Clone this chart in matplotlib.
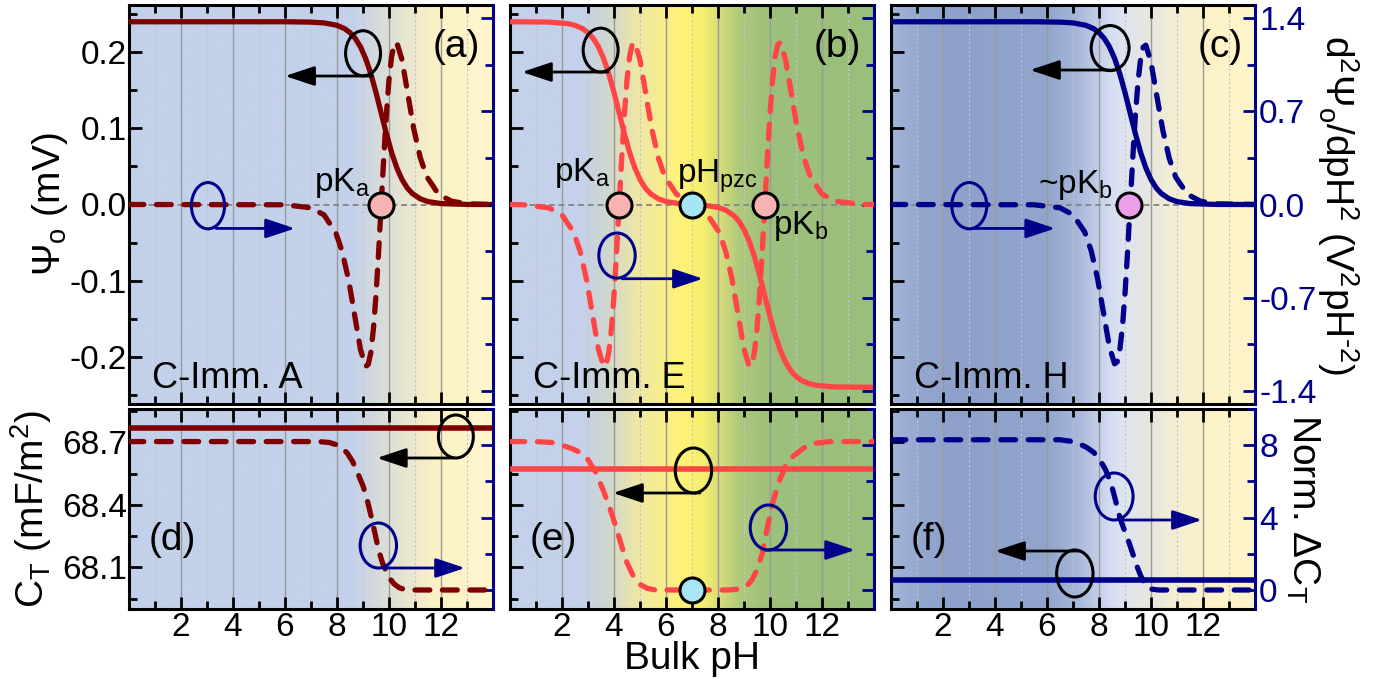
import matplotlib
matplotlib.use("Agg")
import matplotlib.pyplot as plt
import numpy as np
from matplotlib.colors import LinearSegmentedColormap
from matplotlib.patches import Ellipse
from matplotlib.ticker import MultipleLocator, FormatStrFormatter

plt.rcParams['font.family'] = ['Liberation Sans', 'DejaVu Sans']
plt.rcParams['mathtext.fontset'] = 'custom'
plt.rcParams['mathtext.rm'] = 'Liberation Sans'
plt.rcParams['mathtext.it'] = 'Liberation Sans:italic'
plt.rcParams['mathtext.bf'] = 'Liberation Sans:bold'
plt.rcParams['axes.unicode_minus'] = False

# ---- values ----
# (a) C-Imm. A
ph_a = [0, 6, 7, 7.5, 8, 8.3, 8.5, 8.7, 8.9, 9.1, 9.3, 9.5, 9.7, 9.9, 10.1, 10.3,
        10.5, 10.7, 10.9, 11.2, 11.5, 12, 13, 14]
psi_a = [0.240, 0.240, 0.2395, 0.2385, 0.2353, 0.2308, 0.2257, 0.2182, 0.2072, 0.1918,
         0.1717, 0.1471, 0.120, 0.0929, 0.0683, 0.0482, 0.0328, 0.0218, 0.0143, 0.0075,
         0.0038, 0.0012, 0.0001, 0.0]
ph_a_d = [0, 6, 7, 7.5, 7.95, 8.2, 8.45, 8.7, 8.9, 9.1, 9.2, 9.3, 9.4, 9.5, 9.6, 9.7,
          9.8, 9.9, 10.0, 10.1, 10.2, 10.3, 10.5, 10.7, 10.95, 11.2, 11.45, 11.9, 12.4, 13, 14]
d2_a = [0, -0.002, -0.025, -0.078, -0.21, -0.354, -0.571, -0.858, -1.088, -1.218,
        -1.203, -1.113, -0.937, -0.681, -0.359, 0, 0.359, 0.681, 0.937, 1.113, 1.203, 1.218,
        1.088, 0.858, 0.571, 0.354, 0.21, 0.078, 0.025, 0.005, 0]

# (b) C-Imm. E
ph_b = [0, 1.5, 2.2, 2.5, 2.8, 3.0, 3.2, 3.4, 3.6, 3.8, 4.0, 4.2, 4.4, 4.6, 4.8, 5.0,
        5.2, 5.4, 5.7, 6.0, 6.5, 7.0, 7.5, 8.0, 8.3, 8.6, 8.8, 9.0, 9.2, 9.4, 9.6, 9.8,
        10.0, 10.2, 10.4, 10.6, 10.8, 11.0, 11.2, 11.5, 11.8, 12.5, 14]
psi_b = [0.240, 0.2396, 0.2376, 0.2353, 0.2308, 0.2257, 0.2182, 0.2072, 0.1918, 0.1717,
         0.1471, 0.120, 0.0929, 0.0683, 0.0482, 0.0328, 0.0218, 0.0143, 0.0075, 0.0038,
         0.0012, 0.0, -0.0012, -0.0038, -0.0075, -0.0143, -0.0218, -0.0328, -0.0482, -0.0683,
         -0.0929, -0.120, -0.1471, -0.1717, -0.1918, -0.2072, -0.2182, -0.2257, -0.2308, -0.2353,
         -0.2376, -0.2396, -0.240]
ph_b_d = [0, 0.5, 1.5, 2.0, 2.45, 2.7, 2.95, 3.2, 3.4, 3.6, 3.7, 3.8, 3.9, 4.0, 4.1, 4.2,
          4.3, 4.4, 4.5, 4.6, 4.7, 4.8, 5.0, 5.2, 5.45, 5.7, 5.95, 6.4, 7.0, 7.6, 8.05, 8.3,
          8.55, 8.8, 9.0, 9.2, 9.3, 9.4, 9.5, 9.6, 9.7, 9.8, 9.9, 10.0, 10.1, 10.2, 10.3, 10.4,
          10.6, 10.8, 11.05, 11.3, 11.55, 12.0, 12.5, 13.5, 14]
d2_b = [0, -0.002, -0.025, -0.078, -0.21, -0.354, -0.571, -0.858, -1.088, -1.218,
        -1.203, -1.113, -0.937, -0.681, -0.359, 0, 0.359, 0.681, 0.937, 1.113,
        1.203, 1.218, 1.088, 0.858, 0.571, 0.354, 0.21, 0.078, 0, -0.078,
        -0.21, -0.354, -0.571, -0.858, -1.088, -1.218, -1.203, -1.113, -0.937, -0.681,
        -0.359, 0, 0.359, 0.681, 0.937, 1.113, 1.203, 1.218, 1.088, 0.858,
        0.571, 0.354, 0.21, 0.078, 0.025, 0.002, 0]

# (c) C-Imm. H
ph_c = [0, 5.5, 6.5, 7.0, 7.5, 7.8, 8.0, 8.2, 8.4, 8.6, 8.8, 9.0, 9.2, 9.4, 9.6, 9.8,
        10.0, 10.2, 10.4, 10.7, 11.0, 11.5, 12.5, 14]
psi_c = [0.240, 0.240, 0.2395, 0.2385, 0.2353, 0.2308, 0.2257, 0.2182, 0.2072, 0.1918,
         0.1717, 0.1471, 0.120, 0.0929, 0.0683, 0.0482, 0.0328, 0.0218, 0.0143, 0.0075,
         0.0038, 0.0012, 0.0001, 0.0]
ph_c_d = [0, 5.5, 6.5, 7.0, 7.45, 7.7, 7.95, 8.2, 8.4, 8.6, 8.7, 8.8, 8.9, 9.0, 9.1, 9.2,
          9.3, 9.4, 9.5, 9.6, 9.7, 9.8, 10.0, 10.2, 10.45, 10.7, 10.95, 11.4, 11.9, 12.5, 14]
d2_c = [0, -0.002, -0.025, -0.077, -0.206, -0.348, -0.562, -0.844, -1.070, -1.198,
        -1.183, -1.094, -0.922, -0.670, -0.353, 0, 0.353, 0.670, 0.922, 1.094, 1.183, 1.198,
        1.070, 0.844, 0.562, 0.348, 0.206, 0.077, 0.025, 0.005, 0]

# bottom row: total capacitance (flat) and normalised change
ph_flat = [0, 14]
ct_d = [68.77, 68.77]
ct_e = [68.57, 68.57]
ct_f = [68.04, 68.04]
ph_d = [0, 7.3, 7.7, 8.0, 8.2, 8.4, 8.6, 8.8, 9.0, 9.15, 9.3, 9.45, 9.6, 9.75, 9.9,
        10.05, 10.2, 10.4, 10.6, 10.9, 14]
nct_d = [8.2, 8.2, 8.15, 8.02, 7.85, 7.55, 7.1, 6.45, 5.75, 5.05, 4.15, 3.2, 2.2, 1.5,
         1.0, 0.6, 0.33, 0.12, 0.03, 0, 0]
ph_e = [0, 1.0, 1.6, 2.0, 2.4, 2.7, 3.0, 3.3, 3.6, 3.8, 4.05, 4.3, 4.5, 4.75, 5.0, 5.3,
        5.6, 8.4, 8.8, 9.1, 9.3, 9.5, 9.7, 9.9, 10.1, 10.35, 10.6, 10.9, 11.3, 11.7, 12.3, 14]
nct_e = [8.2, 8.2, 8.15, 8.0, 7.8, 7.6, 7.2, 6.5, 5.45, 4.7, 3.6, 2.4, 1.5, 0.75, 0.3, 0.08,
         0, 0, 0.05, 0.2, 0.55, 1.1, 2.0, 3.45, 4.8, 6.0, 6.85, 7.4, 7.85, 8.1, 8.2, 8.2]
ph_f = [0, 6.5, 6.9, 7.2, 7.5, 7.8, 8.05, 8.25, 8.45, 8.6, 8.8, 8.95, 9.1, 9.3, 9.45, 9.6,
        9.8, 10.0, 10.3, 14]
nct_f = [8.3, 8.3, 8.22, 8.1, 7.9, 7.6, 7.15, 6.65, 5.95, 5.15, 4.0, 3.4, 2.85, 2.0, 1.35,
         0.8, 0.25, 0.05, 0, 0]

# marked points on the zero line: (pH, fill colour)
marks_a = [(9.7, '#f7b2b2')]
marks_b = [(4.2, '#f7b2b2'), (7.0, '#a6e6f2'), (9.8, '#f7b2b2')]
marks_c = [(9.15, '#ee9ee8')]
marks_e = [(7.0, '#a8e6f5')]

NAVY = '#00008b'
colors = ['#7f0000', '#ff4545', NAVY]

# background colour stops along pH
grad_a = [(0, '#c3d1ea'), (8.6, '#c3d1ea'), (10.0, '#dcdfd6'), (11.8, '#fcf1c6'), (14, '#fff6cd')]
grad_b = [(0, '#c4d1ea'), (2.7, '#c4d1ea'), (3.7, '#cfd6d0'), (4.9, '#eee7a6'), (6.5, '#fff27a'),
          (7.4, '#f7ef6e'), (8.1, '#d8dd7a'), (8.8, '#b0ca7c'), (10.0, '#9dc07d'), (14, '#9bbf7b')]
grad_c = [(0, '#a3b4d9'), (1.2, '#93a6ce'), (2.5, '#8ea1cb'), (6.0, '#92a5cd'), (7.2, '#a8b8da'),
          (8.5, '#d5def1'), (9.0, '#dfe4ef'), (10.0, '#e8e7de'), (11.0, '#f4eed4'),
          (12.3, '#fdf2c7'), (14, '#fff5cc')]
grads = [grad_a, grad_b, grad_c]

TOP_Y, TOP_Y2 = (-0.262, 0.262), (-1.5, 1.5)
BOT_Y, BOT_Y2 = (67.9, 68.86), (-1.05, 10.0)
TICK_FS = 24
DASH = (0, (2.8, 2.4))

fig = plt.figure(figsize=(13.95, 6.85), dpi=100)
lefts = [129 / 1395, 510 / 1395, 891 / 1395]
width = 364 / 1395


def paint(ax, stops, ylim):
    cmap = LinearSegmentedColormap.from_list('bg', [(p / 14, c) for p, c in stops])
    ax.imshow(np.linspace(0, 1, 600)[None, :], cmap=cmap, aspect='auto',
              extent=(0, 14, ylim[0], ylim[1]), zorder=0, interpolation='bilinear')


def style(ax, ax2, ylim, y2lim, col, bottom_row):
    ax.set_xlim(0, 14)
    ax.set_ylim(*ylim)
    ax2.set_ylim(*y2lim)
    ax.xaxis.set_major_locator(MultipleLocator(2))
    ax.xaxis.set_minor_locator(MultipleLocator(1))
    ax.set_xticks([2, 4, 6, 8, 10, 12])
    ax.xaxis.grid(True, which='major', color='#9a9a9a', lw=1.0)
    ax.xaxis.grid(True, which='minor', color='#c4c4c4', lw=0.8, ls=(0, (2, 2)))
    for s in ['left', 'top', 'bottom']:
        ax.spines[s].set_linewidth(2.2)
        ax.spines[s].set_color('black')
        ax2.spines[s].set_visible(False)
    ax.spines['right'].set_visible(False)
    ax2.spines['right'].set_linewidth(2.2)
    ax2.spines['right'].set_color(NAVY)
    ax.tick_params(which='major', direction='in', length=9, width=2, top=True, bottom=True,
                   left=True, right=False, labelsize=TICK_FS, pad=2,
                   labelbottom=bottom_row, labelleft=(col == 0))
    ax.tick_params(which='minor', direction='in', length=5.5, width=2, top=True, bottom=True,
                   left=True, right=False)
    ax.tick_params(axis='y', pad=1.5)
    ax2.tick_params(axis='y', which='major', direction='in', length=9, width=2, colors=NAVY,
                    labelsize=TICK_FS, pad=3, labelright=(col == 2))
    ax2.tick_params(axis='y', which='minor', direction='in', length=5.5, width=2, color=NAVY)


def indicator(ax, spec, color):
    cx, cy, w, h, x0, x1, y = spec
    ax.add_patch(Ellipse((cx, cy), w, h, transform=ax.transAxes, fill=False,
                         ec=color, lw=2.2, zorder=7))
    ax.annotate('', xy=(x1, y), xytext=(x0, y), xycoords='axes fraction',
                arrowprops=dict(arrowstyle='-|>,head_length=0.9,head_width=0.3',
                                color=color, lw=2.0, shrinkA=0, shrinkB=0,
                                mutation_scale=20), zorder=7)


# ---------------- top row ----------------
top_data = [(ph_a, psi_a, ph_a_d, d2_a, marks_a),
            (ph_b, psi_b, ph_b_d, d2_b, marks_b),
            (ph_c, psi_c, ph_c_d, d2_c, marks_c)]
top_ind = [
    [((0.643, 0.879, 0.096, 0.113, 0.668, 0.429, 0.822), 'black'),
     ((0.217, 0.497, 0.091, 0.116, 0.239, 0.456, 0.44), NAVY)],
    [((0.249, 0.887, 0.096, 0.11, 0.269, 0.033, 0.832), 'black'),
     ((0.294, 0.372, 0.1, 0.113, 0.308, 0.53, 0.314), NAVY)],
    [((0.602, 0.892, 0.104, 0.113, 0.615, 0.382, 0.837), 'black'),
     ((0.215, 0.497, 0.096, 0.116, 0.225, 0.451, 0.44), NAVY)],
]
letters_top = ['(a)', '(b)', '(c)']
names = ['C-Imm. A', 'C-Imm. E', 'C-Imm. H']

top_axes = []
for i in range(3):
    ax = fig.add_axes([lefts[i], 1 - 404 / 685, width, 399 / 685])
    ax2 = ax.twinx()
    paint(ax, grads[i], TOP_Y)
    style(ax, ax2, TOP_Y, TOP_Y2, i, False)
    ax.yaxis.set_major_locator(MultipleLocator(0.1))
    ax.yaxis.set_minor_locator(MultipleLocator(0.05))
    ax.yaxis.set_major_formatter(FormatStrFormatter('%.1f'))
    ax2.yaxis.set_major_locator(MultipleLocator(0.7))
    ax2.yaxis.set_minor_locator(MultipleLocator(0.35))
    ax2.yaxis.set_major_formatter(FormatStrFormatter('%.1f'))

    ph, psi, phd, d2, marks = top_data[i]
    ax.axhline(0, color='#8a8a8a', lw=1.4, ls=(0, (3, 2)), zorder=1.6)
    ax.plot(ph, psi, color=colors[i], lw=3.8, zorder=3)
    ax2.plot(phd, d2, color=colors[i], lw=3.8, ls=DASH,
             dash_capstyle='round', zorder=3)
    for x, fc in marks:
        ax2.plot([x], [0], 'o', ms=18, mfc=fc, mec='black', mew=2.2, zorder=6)
    for spec, c in top_ind[i]:
        indicator(ax2, spec, c)
    ax2.text(0.965, 0.895, letters_top[i], transform=ax2.transAxes, ha='right',
             va='center', fontsize=28)
    ax2.text(0.062, 0.04, names[i], transform=ax2.transAxes, ha='left',
             va='baseline', fontsize=26)
    top_axes.append((ax, ax2))

a_ax2 = top_axes[0][1]
a_ax2.text(0.662, 0.535, 'pK$_\\mathregular{a}$', transform=a_ax2.transAxes,
           ha='right', va='baseline', fontsize=24, zorder=8)
b_ax2 = top_axes[1][1]
b_ax2.text(0.275, 0.56, 'pK$_\\mathregular{a}$', transform=b_ax2.transAxes,
           ha='right', va='baseline', fontsize=24, zorder=8)
b_ax2.text(0.459, 0.555, 'pH$_\\mathregular{pzc}$', transform=b_ax2.transAxes,
           ha='left', va='baseline', fontsize=24, zorder=8)
b_ax2.text(0.723, 0.427, 'pK$_\\mathregular{b}$', transform=b_ax2.transAxes,
           ha='left', va='baseline', fontsize=24, zorder=8)
c_ax2 = top_axes[2][1]
c_ax2.text(0.61, 0.53, '~pK$_\\mathregular{b}$', transform=c_ax2.transAxes,
           ha='right', va='baseline', fontsize=24, zorder=8)

top_axes[0][0].set_ylabel('Ψ$_\\mathregular{o}$ (mV)', fontsize=28, va='center')
top_axes[0][0].yaxis.set_label_coords(-0.217, 0.5)
c_ax2.set_ylabel('d$^\\mathregular{2}$Ψ$_\\mathregular{o}$/dpH$^\\mathregular{2}$ '
                 '(V$^\\mathregular{2}$pH$^\\mathregular{‐2}$)',
                 fontsize=28, rotation=270, va='center', ha='center')
c_ax2.yaxis.set_label_coords(1.228, 0.5)

# ---------------- bottom row ----------------
bot_data = [(ct_d, ph_d, nct_d, []), (ct_e, ph_e, nct_e, marks_e), (ct_f, ph_f, nct_f, [])]
bot_ind = [
    [((0.898, 0.8625, 0.096, 0.215, 0.89, 0.681, 0.755), 'black'),
     ((0.685, 0.3175, 0.1, 0.225, 0.698, 0.923, 0.205), NAVY)],
    [((0.504, 0.6925, 0.1, 0.225, 0.522, 0.283, 0.58), 'black'),
     ((0.71, 0.4075, 0.1, 0.225, 0.70, 0.948, 0.295), NAVY)],
    [((0.505, 0.1775, 0.1, 0.235, 0.519, 0.286, 0.29), 'black'),
     ((0.613, 0.5625, 0.104, 0.235, 0.629, 0.854, 0.445), NAVY)],
]
letters_bot = ['(d)', '(e)', '(f)']
bot_axes = []
for i in range(3):
    ax = fig.add_axes([lefts[i], 1 - 609 / 685, width, 200 / 685])
    ax2 = ax.twinx()
    paint(ax, grads[i], BOT_Y)
    style(ax, ax2, BOT_Y, BOT_Y2, i, True)
    ax.set_yticks([68.1, 68.4, 68.7])
    ax.set_yticks([67.95, 68.25, 68.55, 68.85], minor=True)
    ax.yaxis.set_major_formatter(FormatStrFormatter('%.1f'))
    ax.set_ylim(*BOT_Y)
    ax2.set_yticks([0, 4, 8])
    ax2.set_yticks([2, 6, 10], minor=True)
    ax2.set_ylim(*BOT_Y2)

    ct, ph, nct, marks = bot_data[i]
    ax.plot(ph_flat, ct, color=colors[i], lw=4.0, zorder=3)
    ax2.plot(ph, nct, color=colors[i], lw=3.8, ls=DASH,
             dash_capstyle='round', zorder=3)
    for x, fc in marks:
        ax2.plot([x], [0], 'o', ms=18, mfc=fc, mec='black', mew=2.2, zorder=6)
    for spec, c in bot_ind[i]:
        indicator(ax2, spec, c)
    ax2.text(0.055, 0.345, letters_bot[i], transform=ax2.transAxes, ha='left',
             va='center', fontsize=28)
    bot_axes.append((ax, ax2))

bot_axes[0][0].set_ylabel('C$_\\mathregular{T}$ (mF/m$^\\mathregular{2}$)', fontsize=28,
                          va='center')
bot_axes[0][0].yaxis.set_label_coords(-0.27, 0.5)
bot_axes[2][1].set_ylabel('Norm. ΔC$_\\mathregular{T}$', fontsize=28, rotation=270,
                          va='center', ha='center')
bot_axes[2][1].yaxis.set_label_coords(1.13, 0.5)

fig.text(692 / 1395, 1 - 659 / 685, 'Bulk pH', ha='center', va='center', fontsize=28)

fig.savefig('out.png', dpi=100)
